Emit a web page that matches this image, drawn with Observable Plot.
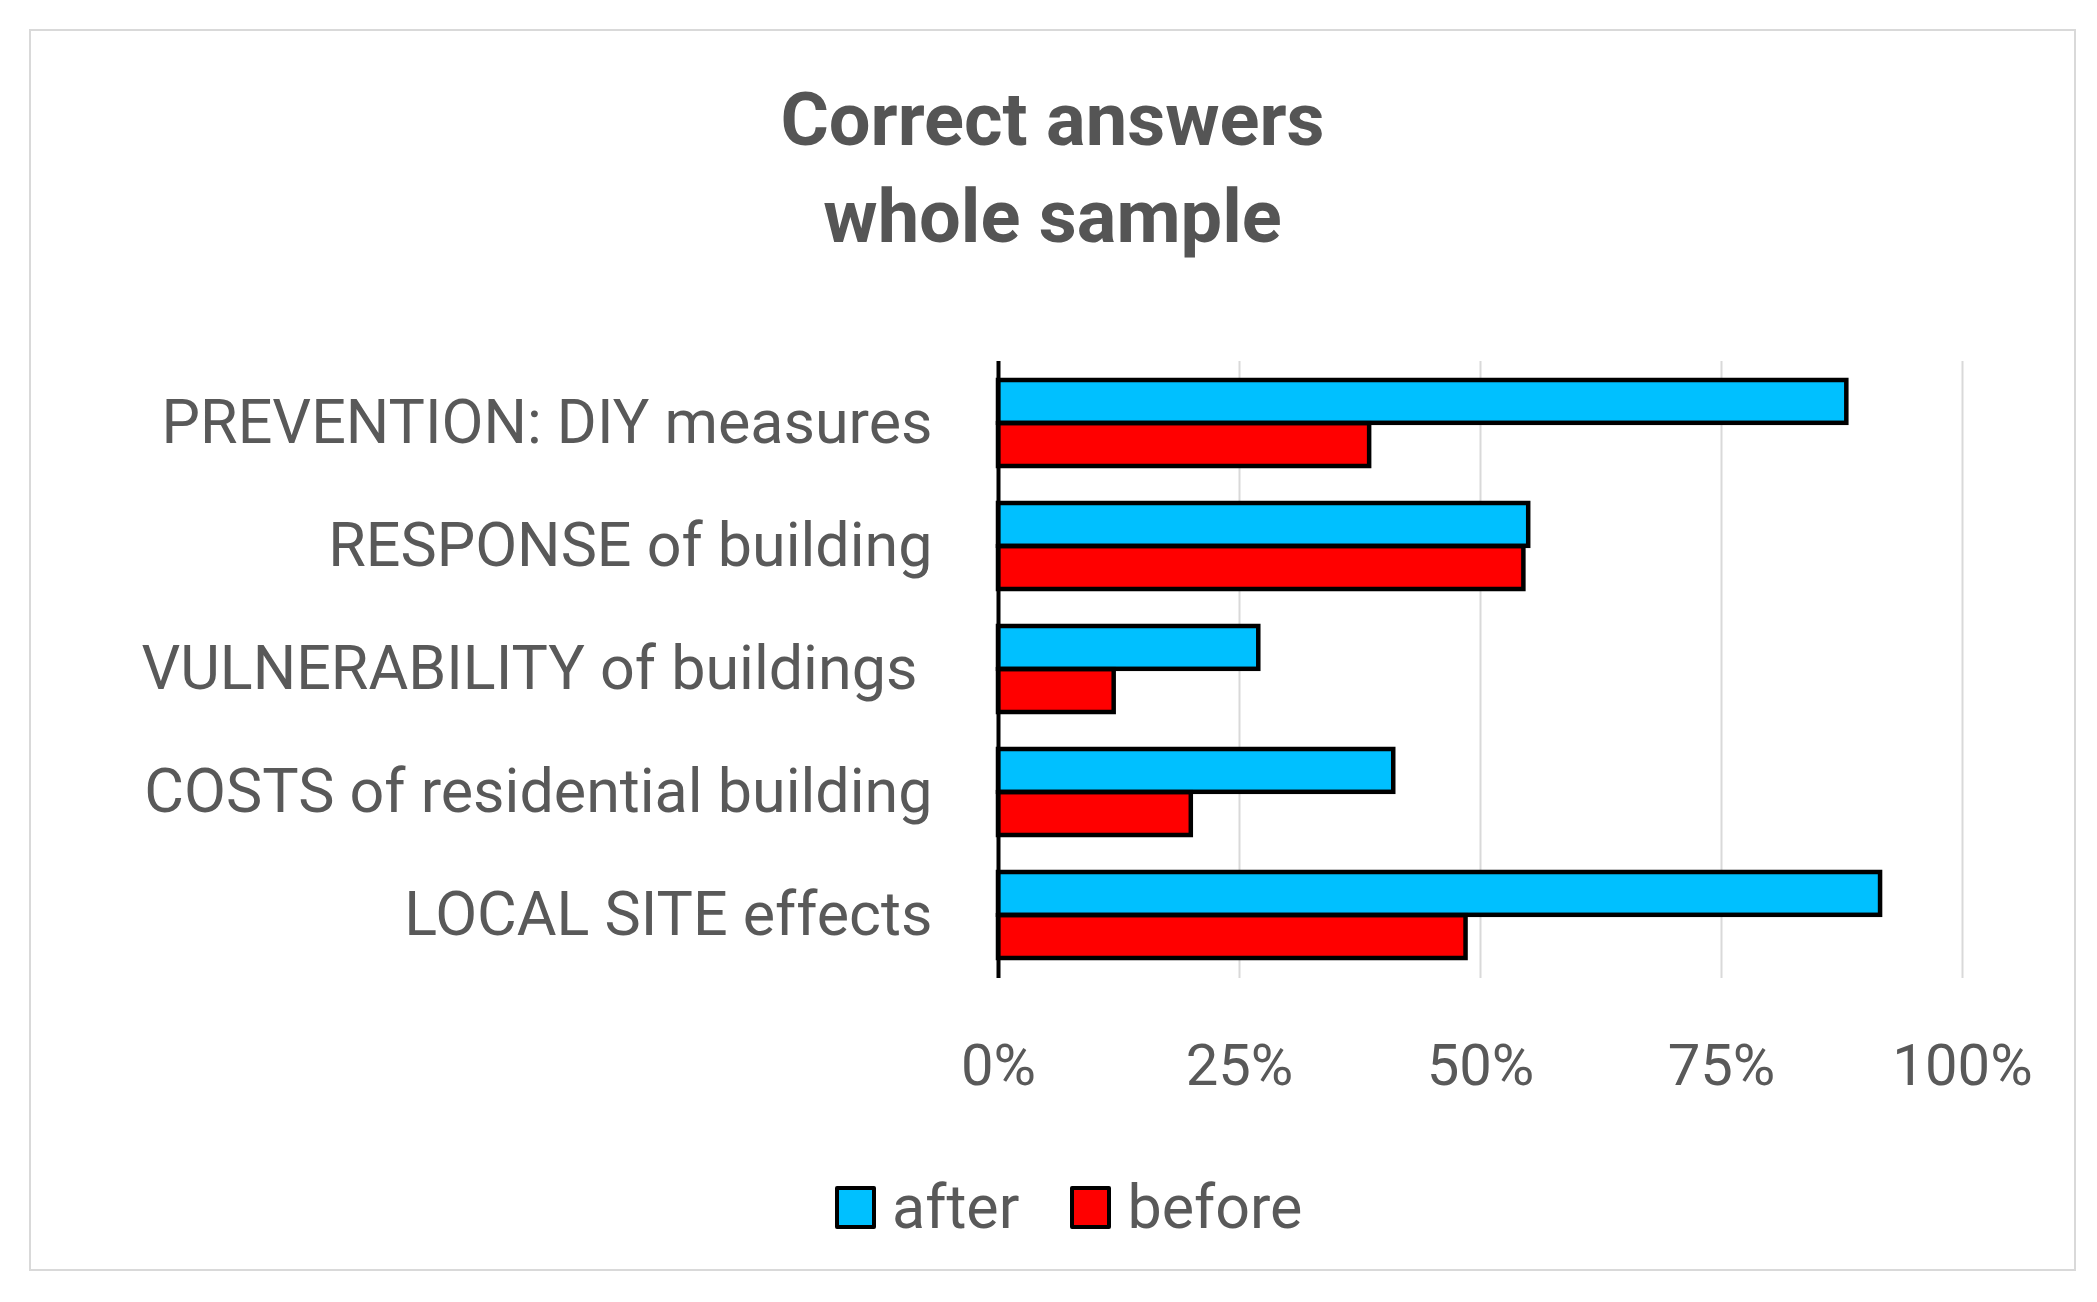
<!DOCTYPE html>
<html>
<head>
<meta charset="utf-8">
<script src="https://cdn.jsdelivr.net/npm/d3@7"></script>
<script src="https://cdn.jsdelivr.net/npm/@observablehq/plot@0.6"></script>
<style>
  html, body { margin: 0; padding: 0; background: #fff; }
  body { width: 2097px; height: 1302px; position: relative; overflow: hidden;
         font-family: "Liberation Sans Narrow", "Arial Narrow", Roboto, sans-serif; color: #595959; }
  #frame { position: absolute; left: 29px; top: 29px; width: 2043px; height: 1238px; border: 2px solid #D9D9D9; }
  #title { position: absolute; left: 29px; width: 2047px; top: 71px; text-align: center;
           font-size: 74px; line-height: 97px; font-weight: bold; color: #555555; }
  #chart { position: absolute; left: 0; top: 340px; }
  #chart svg text { white-space: pre; }
  #legend { position: absolute; left: 835px; top: 1176px; display: flex; align-items: center;
            font-size: 61px; line-height: 62px; color: #595959; }
  .sw { width: 33px; height: 35px; border: 4px solid #000; border-radius: 2px; }
</style>
</head>
<body>
<div id="frame"></div>
<div id="title">Correct answers<br>whole sample</div>
<div id="chart"></div>
<div id="legend"></div>
<script>
const categories = [
  "PREVENTION: DIY measures",
  "RESPONSE of building",
  "VULNERABILITY of buildings ",
  "COSTS of residential building",
  "LOCAL SITE effects"
];
const afterValues = [88, 55, 27, 41, 91.5];
const beforeValues = [38.5, 54.5, 12, 20, 48.5];
const seriesNames = ["after", "before"];
const seriesColors = ["#00C0FF", "#FF0000"];
const xTicks = [0, 25, 50, 75, 100];

const afterRows = categories.map((c, i) => ({category: c, series: "after", value: afterValues[i]}));
const beforeRows = categories.map((c, i) => ({category: c, series: "before", value: beforeValues[i]}));

const W = 2097, H = 780, mT = 21, mB = 142, mL = 998, mR = 135;
const pIn = 0.3, pOut = 0.15;
const step = (H - mT - mB) / (categories.length - pIn + 2 * pOut);
const half = step * (1 - pIn) / 2;

const chart = Plot.plot({
  width: W, height: H,
  marginTop: mT, marginBottom: mB, marginLeft: mL, marginRight: mR,
  style: {fontFamily: '"Liberation Sans Narrow", "Arial Narrow", Roboto, sans-serif', color: "#595959", background: "transparent", overflow: "visible"},
  x: {domain: [0, 100]},
  y: {domain: categories, paddingInner: pIn, paddingOuter: pOut},
  color: {domain: seriesNames, range: seriesColors},
  marks: [
    Plot.gridX(xTicks.slice(1), {stroke: "#D9D9D9", strokeOpacity: 1, strokeWidth: 2}),
    Plot.barX(afterRows, {x: "value", y: "category", fill: "series", stroke: "#000", strokeWidth: 4.5, insetBottom: half}),
    Plot.barX(beforeRows, {x: "value", y: "category", fill: "series", stroke: "#000", strokeWidth: 4.5, insetTop: half}),
    Plot.ruleX([0], {stroke: "#000", strokeWidth: 4}),
    Plot.axisX(xTicks, {tickSize: 0, tickPadding: 65, tickFormat: d => d + "%", fontSize: 58, label: null}),
    Plot.axisY({tickSize: 0, tickPadding: 66, fontSize: 61, label: null})
  ]
});
document.getElementById("chart").appendChild(chart);

const legend = document.getElementById("legend");
seriesNames.forEach((s, i) => {
  const sw = document.createElement("div");
  sw.className = "sw";
  sw.style.background = seriesColors[i];
  sw.style.marginRight = "16px";
  const t = document.createElement("span");
  t.textContent = s;
  t.style.marginRight = i === 0 ? "51px" : "0";
  legend.appendChild(sw);
  legend.appendChild(t);
});
</script>
</body>
</html>
